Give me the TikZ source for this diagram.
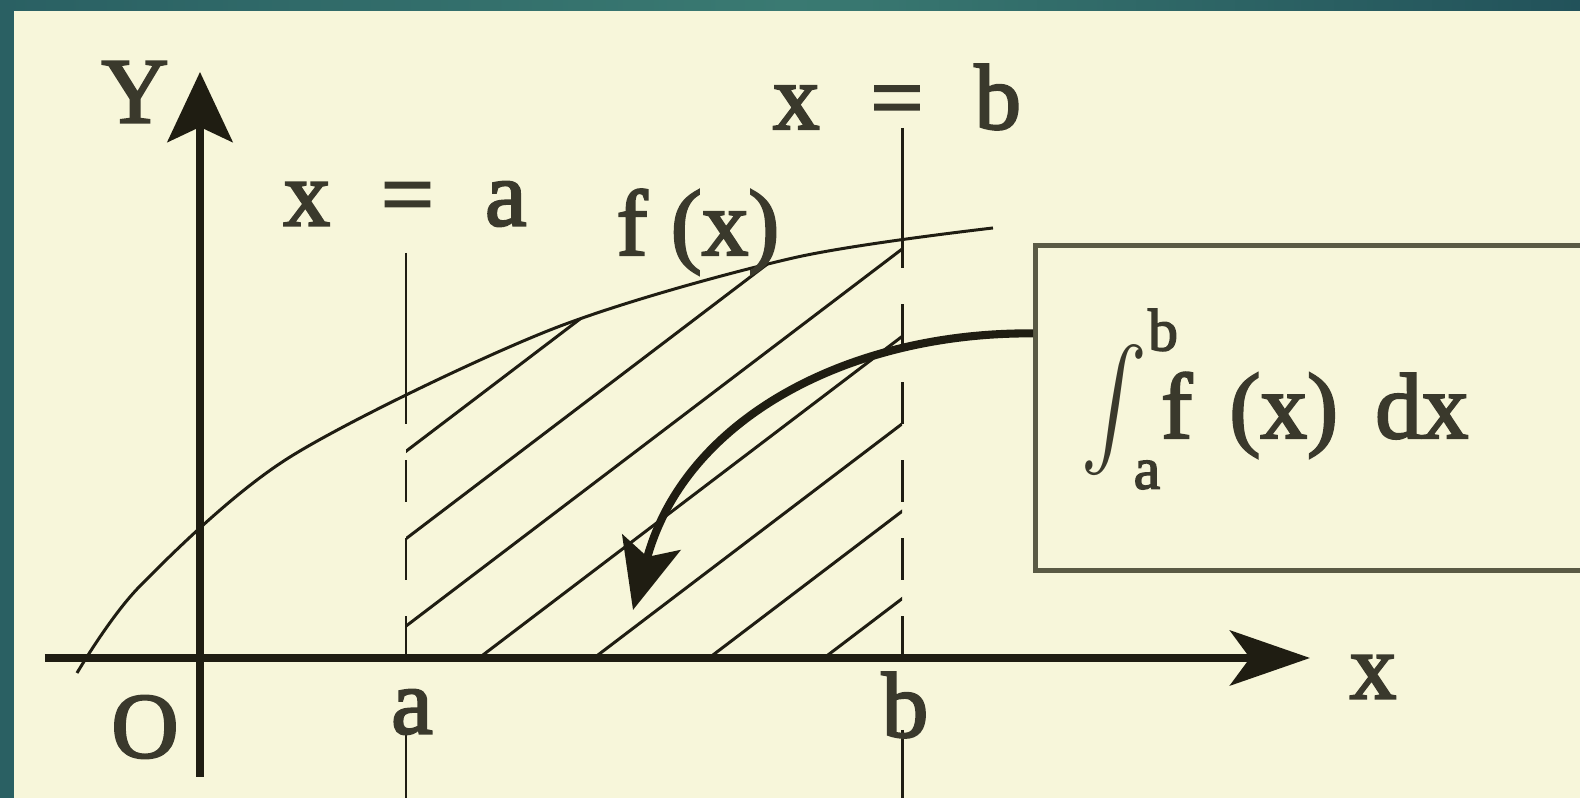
\documentclass[tikz,border=0pt]{standalone}
\usepackage{fontspec}
\usepackage{exscale}
\setmainfont{Liberation Serif}
\newfontfamily\lblfont{Liberation Serif}[FakeBold=2.5]
\usetikzlibrary{arrows.meta,calc}
\definecolor{cream}{HTML}{F7F6DA}
\definecolor{tealA}{HTML}{2A6063}
\definecolor{tealB}{HTML}{3A7A72}
\definecolor{tealC}{HTML}{22525A}
\definecolor{ink}{HTML}{1F1D12}
\definecolor{txt}{HTML}{3A392C}
\definecolor{boxc}{HTML}{5A5A44}
% the graph of f
\def\fcurve{plot[smooth] coordinates {(-1.23,-0.15) (-0.6,0.72) (0.9,2.01) (3.5,3.28) (5.93,4.0) (7.93,4.30)}}
\newcommand{\wsp}{\hspace{0.55em}}
\begin{document}
\begin{tikzpicture}[
  thinline/.style={ink, line width=0.85pt},
  axisline/.style={ink, line width=2.3pt},
  dashline/.style={thinline, dash pattern=on 4.2mm off 3.6mm},
  lbl/.style={text=txt, font=\fontsize{26.5}{30}\lblfont, inner sep=1pt},
  sublbl/.style={text=txt, font=\fontsize{17}{20}\lblfont, inner sep=0pt}
]
\useasboundingbox (-2,-1.4) rectangle (13.8,6.58);
\clip (-2,-1.4) rectangle (13.8,6.58);
% slide frame
\shade [left color = tealA, right color = tealC, middle color = tealB] (-2,-1.4) rectangle (13.8,6.58);
\fill [cream] (-1.86,-1.4) rectangle (13.8,6.47);
% hatched area
\begin{scope}
\clip (2.06,0) rectangle (7.02,5);
\clip \fcurve -- (7.93,0) -- cycle;
\foreach \c in {-0.66,0.49,...,6.3}
  \draw [thinline] (\c,0) -- ++(6,4.56);
\end{scope}
% x = a and x = b
\draw [thinline] (2.06,4.05) -- (2.06,2.38);
\draw [dashline] (2.06,0) -- (2.06,2.38);
\draw [thinline] (2.06,-0.74) -- (2.06,-1.45);
\draw [thinline] (7.02,5.30) -- (7.02,3.98);
\draw [dashline] (7.02,0) -- (7.02,3.98);
\draw [thinline] (7.02,-0.72) -- (7.02,-1.45);
% curve and axes
\draw [thinline] \fcurve;
\draw [axisline, -{Stealth[length=8mm,width=5.5mm,inset=2mm]}] (-1.55,0) -- (11.1,0);
\draw [axisline, -{Stealth[length=7mm,width=6.5mm,inset=1.5mm]}] (0,-1.19) -- (0,5.86);
% labels
\node [lbl] (Ylab) at (-0.65,5.66) {Y};
\node [lbl] (xa) at (2.05,4.54) {x\wsp=\wsp a};
\node [lbl] (fx) at (4.98,4.26) {f (x)};
\node [lbl] (xb) at (6.97,5.61) {x\wsp=\wsp b};
\node [lbl] (olab) at (-0.55,-0.69) {O};
\node [lbl] (alab) at (2.12,-0.54) {a};
\node [lbl] (blab) at (7.05,-0.47) {b};
\node [lbl] (xlab) at (11.73,-0.19) {x};
% integral box
\node [draw = boxc, line width = 1.4pt, minimum width = 6cm, minimum height = 3.25cm, anchor = north west, inner sep = 0pt] (box) at (8.33,4.15) {};
\node [lbl, anchor = base west] (fdx) at (9.57,2.20) {f\hspace{0.4em}(x)\hspace{0.4em}dx};
\node [lbl, xslant = 0.08, transform shape] (intsign) at (9.14,2.48) {\scalebox{1}[1.35]{$\int$}};
\node [sublbl] (intb) at (9.63,3.28) {b};
\node [sublbl] (inta) at (9.47,1.83) {a};
\coordinate (tip) at (4.33,0.48);
\draw [ink, line width = 2.3pt, -{Stealth[length=7mm,width=6mm,inset=1.5mm]}] ($(box.north west)!0.274!(box.south west)$) .. controls (6.5,3.26) and (4.85,2.4) .. (tip);
\end{tikzpicture}
\end{document}
